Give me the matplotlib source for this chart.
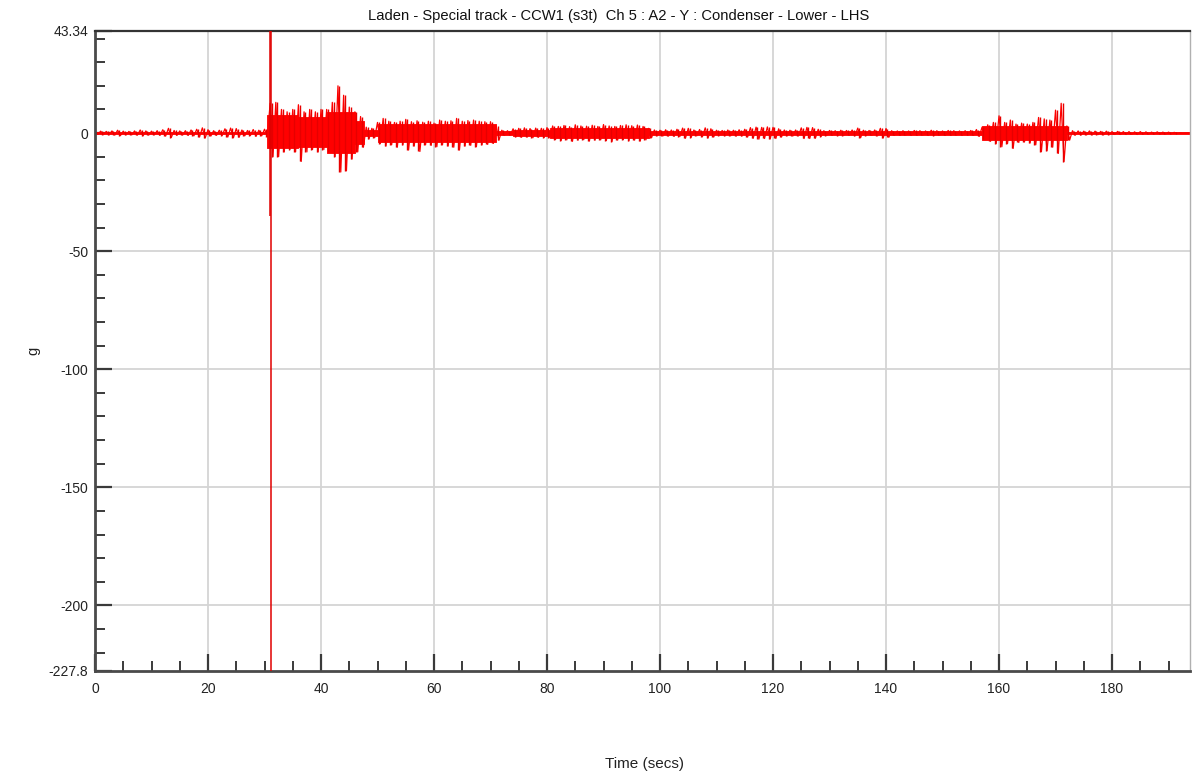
import matplotlib
matplotlib.use("Agg")
import matplotlib.pyplot as plt
from matplotlib.ticker import MultipleLocator, FixedLocator
import numpy as np

plt.rcParams['font.family'] = ['Liberation Sans', 'DejaVu Sans']

TITLE = "Laden - Special track - CCW1 (s3t)  Ch 5 : A2 - Y : Condenser - Lower - LHS"
X_LABEL = "Time (secs)"
Y_LABEL = "g"

# per-second peaks of the acceleration trace (peak high / peak low)
t_sec = list(range(0, 195))

env_hi = (
    # t = 0..30
    [0.6, 0.8, 0.7, 0.9, 1.2, 0.8, 0.7, 0.9, 1.3, 0.9, 0.8, 1.0, 1.4, 2.0, 1.1, 0.9,
     1.0, 1.3, 1.6, 2.2, 1.4, 1.0, 1.2, 1.8, 2.1, 1.9, 1.3, 1.1, 1.5, 1.2, 1.6]
    # t = 31..47
    + [12.6, 13, 10, 9, 10, 12, 9, 10, 9, 10, 10, 13, 20, 16, 11, 9, 7]
    # t = 48..49
    + [2.5, 2.0]
    # t = 50..71
    + [4.5, 6.2, 5.0, 4.5, 5.0, 5.8, 4.8, 5.2, 4.6, 5.0, 4.2, 5.5, 5.0, 5.2, 6.2, 5.0,
       5.3, 5.5, 5.0, 4.8, 4.8, 3.0]
    # t = 72..73
    + [1.2, 1.0]
    # t = 74..80
    + [1.8, 2.0, 2.2, 1.9, 2.1, 2.0, 2.3]
    # t = 81..97
    + [3.0, 2.8, 3.2, 2.7, 3.5, 3.0, 2.9, 3.3, 2.8, 3.6, 3.0, 2.8, 3.2, 3.5, 3.1, 3.4, 2.8]
    # t = 98
    + [2.0]
    # t = 99..156
    + [1.3, 1.2, 1.4, 1.3, 1.6, 2.1, 2.0, 1.3, 1.5, 2.2, 1.8, 1.2, 1.1, 1.3, 1.2, 1.4,
       1.6, 2.3, 2.5, 2.4, 2.6, 2.4, 1.8, 1.3, 1.2, 1.3, 2.2, 2.4, 2.3, 1.6, 1.0, 1.1,
       1.0, 1.2, 1.1, 1.3, 2.1, 1.2, 1.1, 1.3, 2.0, 1.9, 1.0, 0.9, 1.0, 0.9, 1.1, 1.0,
       0.9, 1.2, 1.0, 0.9, 1.1, 1.0, 0.9, 1.0, 1.1, 1.5]
    # t = 157..172
    + [2.5, 3.5, 4.5, 7.3, 4.5, 5.5, 3.8, 4.2, 3.8, 4.5, 6.6, 6.0, 5.5, 9.7, 12.6, 3.0]
    # t = 173..194
    + [1.0, 0.9, 0.8, 0.9, 0.8, 0.7, 0.8, 0.6, 0.7, 0.6, 0.6, 0.5, 0.6, 0.5, 0.4, 0.5,
       0.4, 0.4, 0.3, 0.1, 0.0, 0.0]
)

env_lo = (
    # t = 0..30
    [-0.6, -0.7, -0.8, -0.9, -1.1, -0.8, -0.8, -0.9, -1.2, -0.9, -0.8, -1.0, -1.3, -1.9,
     -1.0, -0.9, -1.0, -1.2, -1.7, -2.1, -1.3, -1.0, -1.1, -1.7, -2.0, -1.8, -1.2, -1.1,
     -1.4, -1.2, -1.5]
    # t = 31..47
    + [-10, -10, -8, -7, -8, -12, -8, -7, -8, -7, -8, -10, -16.5, -16, -11, -8, -6]
    # t = 48..49
    + [-2.5, -2.0]
    # t = 50..71
    + [-4.5, -5.5, -5.0, -6.0, -5.0, -7.2, -5.5, -7.8, -5.0, -5.2, -5.8, -5.0, -5.5, -6.0,
       -7.2, -5.5, -5.2, -5.8, -5.0, -4.8, -4.4, -3.0]
    # t = 72..73
    + [-1.0, -0.8]
    # t = 74..80
    + [-1.6, -1.8, -1.7, -2.0, -1.8, -1.9, -2.0]
    # t = 81..97
    + [-2.8, -3.2, -2.9, -3.5, -3.0, -2.8, -3.4, -3.0, -2.9, -3.2, -3.6, -3.0, -2.8, -3.3,
       -3.0, -3.4, -2.9]
    # t = 98
    + [-2.0]
    # t = 99..156
    + [-1.2, -1.3, -1.3, -1.4, -1.5, -2.2, -1.9, -1.2, -1.6, -2.1, -1.7, -1.1, -1.2, -1.2,
       -1.3, -1.3, -1.7, -2.2, -2.6, -2.3, -2.5, -2.3, -1.7, -1.2, -1.3, -1.2, -2.3, -2.3,
       -2.2, -1.5, -1.1, -1.0, -1.1, -1.1, -1.0, -1.2, -2.0, -1.1, -1.0, -1.2, -2.1, -1.8,
       -1.0, -1.0, -0.9, -1.0, -1.0, -0.9, -1.0, -1.1, -0.9, -1.0, -1.0, -0.9, -1.0, -0.9,
       -1.0, -1.4]
    # t = 157..172
    + [-2.5, -3.5, -4.5, -5.8, -4.5, -6.5, -4.0, -3.8, -4.2, -5.0, -7.9, -7.5, -6.0, -8.6,
       -12.1, -3.0]
    # t = 173..194
    + [-0.9, -0.9, -0.8, -0.8, -0.7, -0.8, -0.7, -0.6, -0.6, -0.6, -0.5, -0.6, -0.5, -0.5,
       -0.4, -0.4, -0.4, -0.3, -0.2, -0.1, 0.0, 0.0]
)

# dense "core" band of the trace, per segment (start s, end s, upper g, lower g)
core_start = [0.0, 30.5, 36.0, 41.0, 46.0, 47.6, 50.0, 71.0, 74.0, 80.5, 98.0, 157.0, 172.0]
core_end = [30.5, 36.0, 41.0, 46.0, 47.6, 50.0, 71.0, 74.0, 80.5, 98.0, 157.0, 172.0, 193.8]
core_hi = [0.5, 7.5, 7.0, 9.0, 5.0, 1.2, 4.0, 0.7, 1.4, 2.2, 0.8, 2.8, 0.4]
core_lo = [-0.5, -6.5, -6.0, -8.5, -4.5, -1.2, -4.0, -0.7, -1.3, -2.2, -0.8, -2.8, -0.4]

# the impact spike near t = 31 s (reaches both extremes of the record)
spike_t = [31.0, 31.15]
spike_hi = [43.34, 43.34]
spike_lo = [-35.0, -227.8]

x_ticks = [0, 20, 40, 60, 80, 100, 120, 140, 160, 180]
y_ticks = [-227.8, -200, -150, -100, -50, 0, 43.34]
y_tick_labels = ["-227.8", "-200", "-150", "-100", "-50", "0", "43.34"]
grid_y = [-200, -150, -100, -50, 0]
grid_x = [20, 40, 60, 80, 100, 120, 140, 160, 180]

# ---------------------------------------------------------------
t_arr = np.asarray(t_sec, dtype=float)
hi = np.asarray(env_hi, dtype=float)
lo = np.asarray(env_lo, dtype=float)
assert len(hi) == len(t_arr) == len(lo)

fig = plt.figure(figsize=(11.92, 7.72), dpi=100)
ax = fig.add_axes([95 / 1192, (772 - 671) / 772, (1190 - 95) / 1192, (671 - 30.7) / 772])

for gy in grid_y:
    ax.axhline(gy, color="#d4d4d4", lw=1.3, zorder=0.5)
for gx in grid_x:
    ax.axvline(gx, color="#d4d4d4", lw=1.3, zorder=0.5)

RED = "#ff0000"
# core band
for s, e, ch, cl in zip(core_start, core_end, core_hi, core_lo):
    ax.fill_between([s, e], [cl, cl], [ch, ch], facecolor=RED, edgecolor=RED, lw=0.6, zorder=2)
# peaks: zig-zag between per-second high and low, plus spikes
xs = np.empty(2 * len(t_arr))
ys = np.empty(2 * len(t_arr))
xs[0::2] = t_arr
xs[1::2] = t_arr + 0.5
ys[0::2] = hi
ys[1::2] = lo
ax.plot(xs, ys, color=RED, lw=0.9, zorder=2)
ax.vlines(t_arr + 0.25, lo, hi, color="#e60000", lw=1.0, zorder=2)
ax.vlines(spike_t, spike_lo, spike_hi, color="#e00000", lw=1.1, zorder=3)

ax.set_xlim(0, 193.8)
ax.set_ylim(-227.8, 43.34)

ax.xaxis.set_major_locator(FixedLocator(x_ticks))
ax.xaxis.set_minor_locator(MultipleLocator(5))
ax.yaxis.set_major_locator(FixedLocator(y_ticks))
ax.set_yticklabels(y_tick_labels)
ax.yaxis.set_minor_locator(MultipleLocator(10))

ax.tick_params(axis="both", which="both", direction="in", colors="#3a3a3a",
               labelcolor="#222222", labelsize=10)
ax.tick_params(axis="x", which="major", length=12, width=1.6, pad=8)
ax.tick_params(axis="x", which="minor", length=7, width=1.4)
ax.tick_params(axis="y", which="major", length=12, width=1.6, pad=5)
ax.tick_params(axis="y", which="minor", length=7, width=1.4)

for side in ["left", "bottom"]:
    ax.spines[side].set_color("#4a4a4a")
    ax.spines[side].set_linewidth(2.0)
ax.spines["top"].set_color("#333333")
ax.spines["top"].set_linewidth(1.6)
ax.spines["right"].set_color("#b0b0b0")
ax.spines["right"].set_linewidth(1.0)

ax.set_title(TITLE, fontsize=10.6, color="#111111", pad=8, x=0.4785)
ax.set_xlabel(X_LABEL, fontsize=11, color="#222222")
ax.xaxis.set_label_coords(0.502, -0.134)
ax.set_ylabel(Y_LABEL, fontsize=10.5, color="#222222")
ax.yaxis.set_label_coords(-0.050, 0.5)

fig.savefig("out.png", dpi=100)
